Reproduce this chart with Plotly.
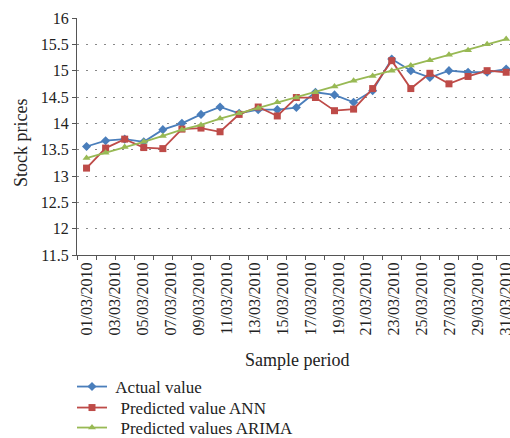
import plotly.graph_objects as go

# 23 trading days of March 2010 (equally spaced points)
n_points = 23
actual = [13.56, 13.67, 13.70, 13.65, 13.88, 14.00, 14.17, 14.31, 14.19, 14.26, 14.26,
          14.30, 14.59, 14.54, 14.40, 14.62, 15.22, 15.00, 14.87, 15.00, 14.97, 14.97, 15.03]
ann = [13.15, 13.53, 13.70, 13.54, 13.52, 13.89, 13.91, 13.84, 14.17, 14.31, 14.14,
       14.49, 14.49, 14.24, 14.27, 14.66, 15.19, 14.66, 14.95, 14.75, 14.89, 15.00, 14.97]
arima = [13.34, 13.44, 13.55, 13.65, 13.76, 13.88, 13.97, 14.09, 14.19, 14.29, 14.40,
         14.49, 14.59, 14.70, 14.81, 14.90, 15.00, 15.10, 15.20, 15.30, 15.39, 15.50, 15.60]

series_names = [" Actual value", "  Predicted value ANN", "  Predicted values ARIMA"]

# tick labels: calendar days 1..31 (every 2nd day), spread over the same span as the points
label_days = list(range(1, 32, 2))
tick_labels = [f"{d:02d}/03/2010" for d in label_days]
y_ticks = [11.5, 12, 12.5, 13, 13.5, 14, 14.5, 15, 15.5, 16]
y_labels = ["11.5", "12", "12.5", "13", "13.5", "14", "14.5", "15", "15.5", "16"]

x = list(range(n_points))
tick_pos = [(d - 1) * (n_points - 1) / 30 for d in label_days]

FONT = "Liberation Serif"
TXT = "#222"
styles = [("#4a7ebb", "diamond"), ("#be4b48", "square"), ("#98b954", "triangle-up")]
legend_ids = ["legend", "legend2", "legend3"]
legend_rows = [387, 408, 428]

fig = go.Figure()
for vals, name, (col, sym), lg in zip([actual, ann, arima], series_names, styles, legend_ids):
    fig.add_trace(go.Scatter(x=x, y=vals, name=name, mode="lines+markers",
                             line=dict(color=col, width=1.8),
                             marker=dict(symbol=sym, size=7, color=col),
                             cliponaxis=False, legend=lg))

legend_common = dict(xref="container", yref="container", x=72 / 510,
                     xanchor="left", yanchor="middle", bgcolor="rgba(0,0,0,0)",
                     font=dict(family=FONT, size=17, color=TXT),
                     itemwidth=30, borderwidth=0)

fig.update_layout(
    width=510, height=438,
    margin=dict(l=77, r=0, t=18, b=183, autoexpand=False),
    paper_bgcolor="white", plot_bgcolor="white",
    font=dict(family=FONT, size=17, color=TXT),
    showlegend=True,
    legend=dict(legend_common, y=1 - legend_rows[0] / 438),
    legend2=dict(legend_common, y=1 - legend_rows[1] / 438),
    legend3=dict(legend_common, y=1 - legend_rows[2] / 438),
    xaxis=dict(
        range=[-0.5, 22.2],
        tickmode="array", tickvals=tick_pos, ticktext=tick_labels,
        tickangle=-90, ticks="", showgrid=False, zeroline=False,
        showline=True, linecolor="#555", linewidth=1.3,
        ticklabeloverflow="allow",
        tickfont=dict(family=FONT, size=16, color=TXT),
        minor=dict(tickmode="linear", tick0=-0.5, dtick=1, ticks="outside",
                   ticklen=4, tickcolor="#555", tickwidth=1, showgrid=False),
    ),
    yaxis=dict(
        range=[11.5, 16],
        tickmode="array", tickvals=y_ticks, ticktext=y_labels,
        ticks="outside", ticklen=4, tickcolor="#555",
        showline=True, linecolor="#555", linewidth=1.3,
        showgrid=True, gridcolor="#888", griddash="1.5px,7.5px", gridwidth=1.2,
        zeroline=False,
        tickfont=dict(family=FONT, size=16, color=TXT),
    ),
    annotations=[
        dict(text="Stock prices", xref="paper", yref="paper", x=(21 - 77) / 433,
             y=(255 - 143) / 237, textangle=-90, showarrow=False,
             xanchor="center", yanchor="middle",
             font=dict(family=FONT, size=18, color=TXT)),
        dict(text="Sample period", xref="paper", yref="paper", x=(297 - 77) / 433,
             y=-(360 - 255) / 237, showarrow=False,
             xanchor="center", yanchor="middle",
             font=dict(family=FONT, size=18, color=TXT)),
    ],
)

fig.write_html("out.html", config={"displayModeBar": False},
               post_script="document.body.style.margin='0px';")
